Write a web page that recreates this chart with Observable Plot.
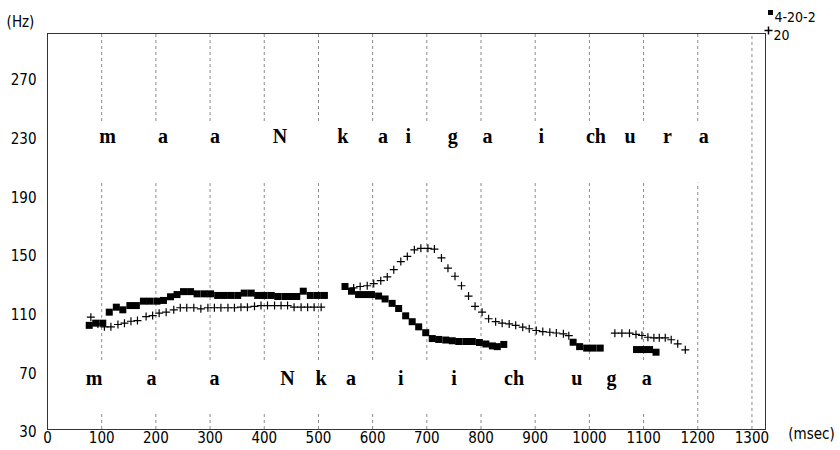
<!DOCTYPE html>
<html>
<head>
<meta charset="utf-8">
<script src="https://cdn.jsdelivr.net/npm/d3@7"></script>
<script src="https://cdn.jsdelivr.net/npm/@observablehq/plot@0.6"></script>
<style>
  body { margin: 0; background: #fff; }
  #chart svg { display: block; }
</style>
</head>
<body>
<div id="chart"></div>
<script>
// F0 contour, speaker "4-20-2" (filled squares): time in ms, pitch in Hz
const squareMs = [77, 89, 102, 114, 127, 139, 152, 164, 177, 189, 202, 214, 227, 239, 251, 264, 276, 289, 301, 314, 326, 338, 351, 363, 376, 388, 400, 413, 425, 438, 450, 460, 472, 485, 498, 511,
  549, 561, 574, 586, 598, 611, 623, 636, 648, 661, 673, 685, 698, 710, 722, 735, 747, 759, 772, 784, 797, 809, 821, 830, 842,
  970, 982, 995, 1007, 1020,
  1087, 1099, 1111, 1123];
const squareHz = [101, 102.5, 102.5, 110, 113.4, 111.6, 114.5, 114.5, 117.5, 117.5, 117.5, 118, 120.5, 122, 124, 124, 122.5, 122.5, 122.5, 121.4, 121.4, 121.4, 121.4, 123, 123, 121.4, 121.4, 121.4, 120.7, 120.7, 120.7, 120.7, 124.3, 121.4, 121.4, 121.4,
  127.5, 124.3, 122, 122, 122, 121, 119, 116, 112.5, 107.5, 103.5, 100, 96, 92, 91.4, 91, 90.5, 90, 90, 90, 89.3, 88.3, 87, 86.5, 88,
  89.5, 86.5, 85.5, 85.5, 85.5,
  84.5, 84.5, 84.5, 82.7];

// F0 contour, speaker "20" (plus signs): time in ms, pitch in Hz
const plusMs = [80, 93, 105, 117, 130, 142, 154, 166, 182, 194, 206, 219, 233, 245, 257, 270, 283, 296, 308, 320, 333, 345, 357, 369, 382, 394, 406, 419, 431, 443, 455, 468, 480, 492, 505,
  565, 577, 590, 602, 615, 627, 639, 652, 664, 677, 689, 702, 714, 727, 739, 752, 764, 777, 789, 802, 814, 827, 839, 852, 864, 877, 889, 902, 914, 927, 939, 952, 962,
  1047, 1060, 1074, 1086, 1097, 1108, 1119, 1129, 1140, 1151, 1163, 1177];
const plusHz = [106.6, 102, 100, 100, 101.6, 102.5, 103.8, 104.3, 107, 107.7, 109.3, 110, 111.6, 113, 113, 113, 112.3, 113, 113, 113, 113, 113, 113.4, 113.4, 114, 114.5, 114.5, 114.5, 114.5, 114.5, 113.4, 113.4, 113.4, 113.4, 113.4,
  126.5, 127.5, 128, 129.5, 131.5, 134, 139, 144.5, 148, 152.5, 153.5, 153.5, 153, 147, 140, 134.5, 128, 121, 114, 110, 105.5, 103.5, 102.5, 102, 101, 99.8, 98.7, 97.5, 96.8, 96.3, 95.8, 95.2, 94,
  95.7, 95.7, 95.7, 94.8, 94.1, 92.9, 92.5, 92.5, 92.5, 91.2, 88.4, 84.3];

// Phoneme transcriptions (upper row: speaker 20, lower row: speaker 4-20-2)
const upperLabels = ["m", "a", "a", "N", "k", "a", "i", "g", "a", "i", "ch", "u", "r", "a"];
const upperMs = [111, 213, 309, 429, 545, 619, 666, 748, 812, 911, 1012, 1075, 1144, 1211];
const upperHz = 230;
const lowerLabels = ["m", "a", "a", "N", "k", "a", "i", "i", "ch", "u", "g", "a"];
const lowerMs = [86, 192, 308, 443, 505, 560, 652, 750, 861, 977, 1041, 1106];
const lowerHz = 65;

// Axis ticks
const xTicks = [0, 100, 200, 300, 400, 500, 600, 700, 800, 900, 1000, 1100, 1200, 1300];
const yTicks = [30, 70, 110, 150, 190, 230, 270];
const gridMs = [100, 200, 300, 400, 500, 600, 700, 800, 900, 1000, 1100, 1200, 1300];

// Range of the axes
const xDomain = [0, 1325];
const yDomain = [30, 300];

// Dashed grid lines stop short of the two transcription rows
const upperGap = [198, 240];
const lowerGap = [41, 77];
const gridSegments = [];
for (const ms of gridMs) {
  const cuts = [];
  if (ms <= 1200) cuts.push(upperGap);
  if (ms <= 1100) cuts.push(lowerGap);
  cuts.sort((a, b) => a[0] - b[0]);
  let lo = yDomain[0];
  for (const [a, b] of cuts) {
    gridSegments.push({ms, y1: lo, y2: a});
    lo = b;
  }
  gridSegments.push({ms, y1: lo, y2: yDomain[1]});
}

const squares = squareMs.map((ms, i) => ({ms, hz: squareHz[i]}));
const pluses = plusMs.map((ms, i) => ({ms, hz: plusHz[i]}));
const upper = upperLabels.map((t, i) => ({t, ms: upperMs[i], hz: upperHz}));
const lower = lowerLabels.map((t, i) => ({t, ms: lowerMs[i], hz: lowerHz}));

// Marker shapes with fixed pixel sizes
const squareShape = { draw(ctx) { ctx.rect(-3.5, -3.5, 7, 7); } };
const smallSquare = { draw(ctx) { ctx.rect(-2.5, -2.5, 5, 5); } };
const plusShape = { draw(ctx) { ctx.moveTo(-4, 0); ctx.lineTo(4, 0); ctx.moveTo(0, -4); ctx.lineTo(0, 4); } };

const uiFont = '"Liberation Sans Narrow", "Arial Narrow", "DejaVu Sans Condensed", sans-serif';
const labelFont = '"Liberation Serif", "Times New Roman", serif';

const chart = Plot.plot({
  width: 840,
  height: 450,
  marginLeft: 47,
  marginRight: 75,
  marginTop: 33,
  marginBottom: 21,
  style: {fontFamily: uiFont, fontSize: "15px", background: "#fff", color: "#000"},
  x: {domain: xDomain},
  y: {domain: yDomain},
  marks: [
    Plot.ruleX(gridSegments, {x: "ms", y1: "y1", y2: "y2", stroke: "#8a8a8a", strokeDasharray: "3,3", strokeWidth: 1}),
    Plot.frame({stroke: "#333", strokeWidth: 1}),
    Plot.axisX(xTicks, {tickSize: 0, tickPadding: 3, fontSize: 15, tickFormat: d => String(d), label: null}),
    Plot.axisY(yTicks, {tickSize: 0, tickPadding: 11, dy: 3, fontSize: 15, tickFormat: d => String(d), label: null}),
    Plot.text(["(Hz)"], {frameAnchor: "top-left", dx: -27, dy: -17, fontSize: 15, textAnchor: "middle"}),
    Plot.text(["(msec)"], {frameAnchor: "bottom-right", dx: 46, dy: 9, fontSize: 15, textAnchor: "middle"}),
    Plot.text(upper, {x: "ms", y: "hz", text: "t", fontFamily: labelFont, fontWeight: "bold", fontSize: 20, lineAnchor: "middle"}),
    Plot.text(lower, {x: "ms", y: "hz", text: "t", fontFamily: labelFont, fontWeight: "bold", fontSize: 20, lineAnchor: "middle"}),
    Plot.dot(squares, {x: "ms", y: "hz", symbol: squareShape, fill: "#000", stroke: "none"}),
    Plot.dot(pluses, {x: "ms", y: "hz", symbol: plusShape, fill: "none", stroke: "#000", strokeWidth: 1.2}),
    // Legend in the top-right corner, outside the frame
    Plot.dot(["4-20-2"], {frameAnchor: "top-right", dx: 5, dy: -21, symbol: smallSquare, fill: "#000", stroke: "none"}),
    Plot.text(["4-20-2"], {frameAnchor: "top-right", dx: 9, dy: -21, textAnchor: "start", fontSize: 14}),
    Plot.dot(["20"], {frameAnchor: "top-right", dx: 3, dy: -3, symbol: plusShape, fill: "none", stroke: "#000"}),
    Plot.text(["20"], {frameAnchor: "top-right", dx: 8, dy: -3, textAnchor: "start", fontSize: 14})
  ]
});

document.getElementById("chart").appendChild(chart);
</script>
</body>
</html>
